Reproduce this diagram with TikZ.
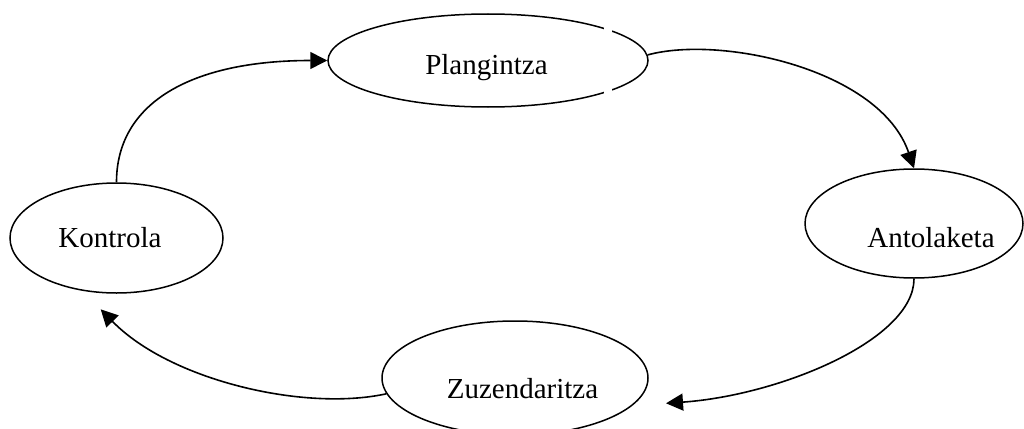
\documentclass[tikz,border=0pt]{standalone}
\usepackage{fontspec}
\setmainfont{Liberation Serif}
\usetikzlibrary{arrows.meta,shapes.geometric}
\begin{document}
\begin{tikzpicture}[x=1pt,y=-1pt,
  stage/.style={draw,ellipse,line width=1.5pt,inner sep=0pt},
  label/.style={anchor=base,inner sep=0pt,font=\fontsize{29}{34}\selectfont},
  flow/.style={line width=1.6pt,-{Triangle[length=17pt,width=17pt]}}]
\useasboundingbox (0,0) rectangle (1024,428);
% the four stages of the cycle
\node[stage,minimum width=320pt,minimum height=93pt] (pla) at (488,60.5) {};
\node[stage,minimum width=218pt,minimum height=109pt] (ant) at (914,223.5) {};
\node[stage,minimum width=266pt,minimum height=114pt] (zuz) at (515,378) {};
\node[stage,minimum width=213pt,minimum height=110pt] (kon) at (116.5,238) {};
% two small breaks in the outline of the first stage
\fill[white] (604,24) rectangle (612,35);
\fill[white] (604,86) rectangle (612,97);
% stage names
\node[label] (tpla) at (486.5,74.3) {Plangintza};
\node[label] (tant) at (931,247) {Antolaketa};
\node[label] (tzuz) at (522.5,398.3) {Zuzendaritza};
\node[label] (tkon) at (110,247) {Kontrola};
% free ends of the lower arrows
\coordinate (zin) at (666,403.3);
\coordinate (kin) at (100.7,309.3);
% the cycle
\draw[flow] (kon.north) .. controls +(0,-80) and +(-135,0) .. (pla.west);
\draw[flow] (pla.2) .. controls +(73,-20) and +(-34,-99) .. (ant.north);
\draw[flow] (ant.south) .. controls +(0,61) and +(114,-8) .. (zin);
\draw[flow] (zuz.187) .. controls +(-82,18) and +(69,71) .. (kin);
\end{tikzpicture}
\end{document}
